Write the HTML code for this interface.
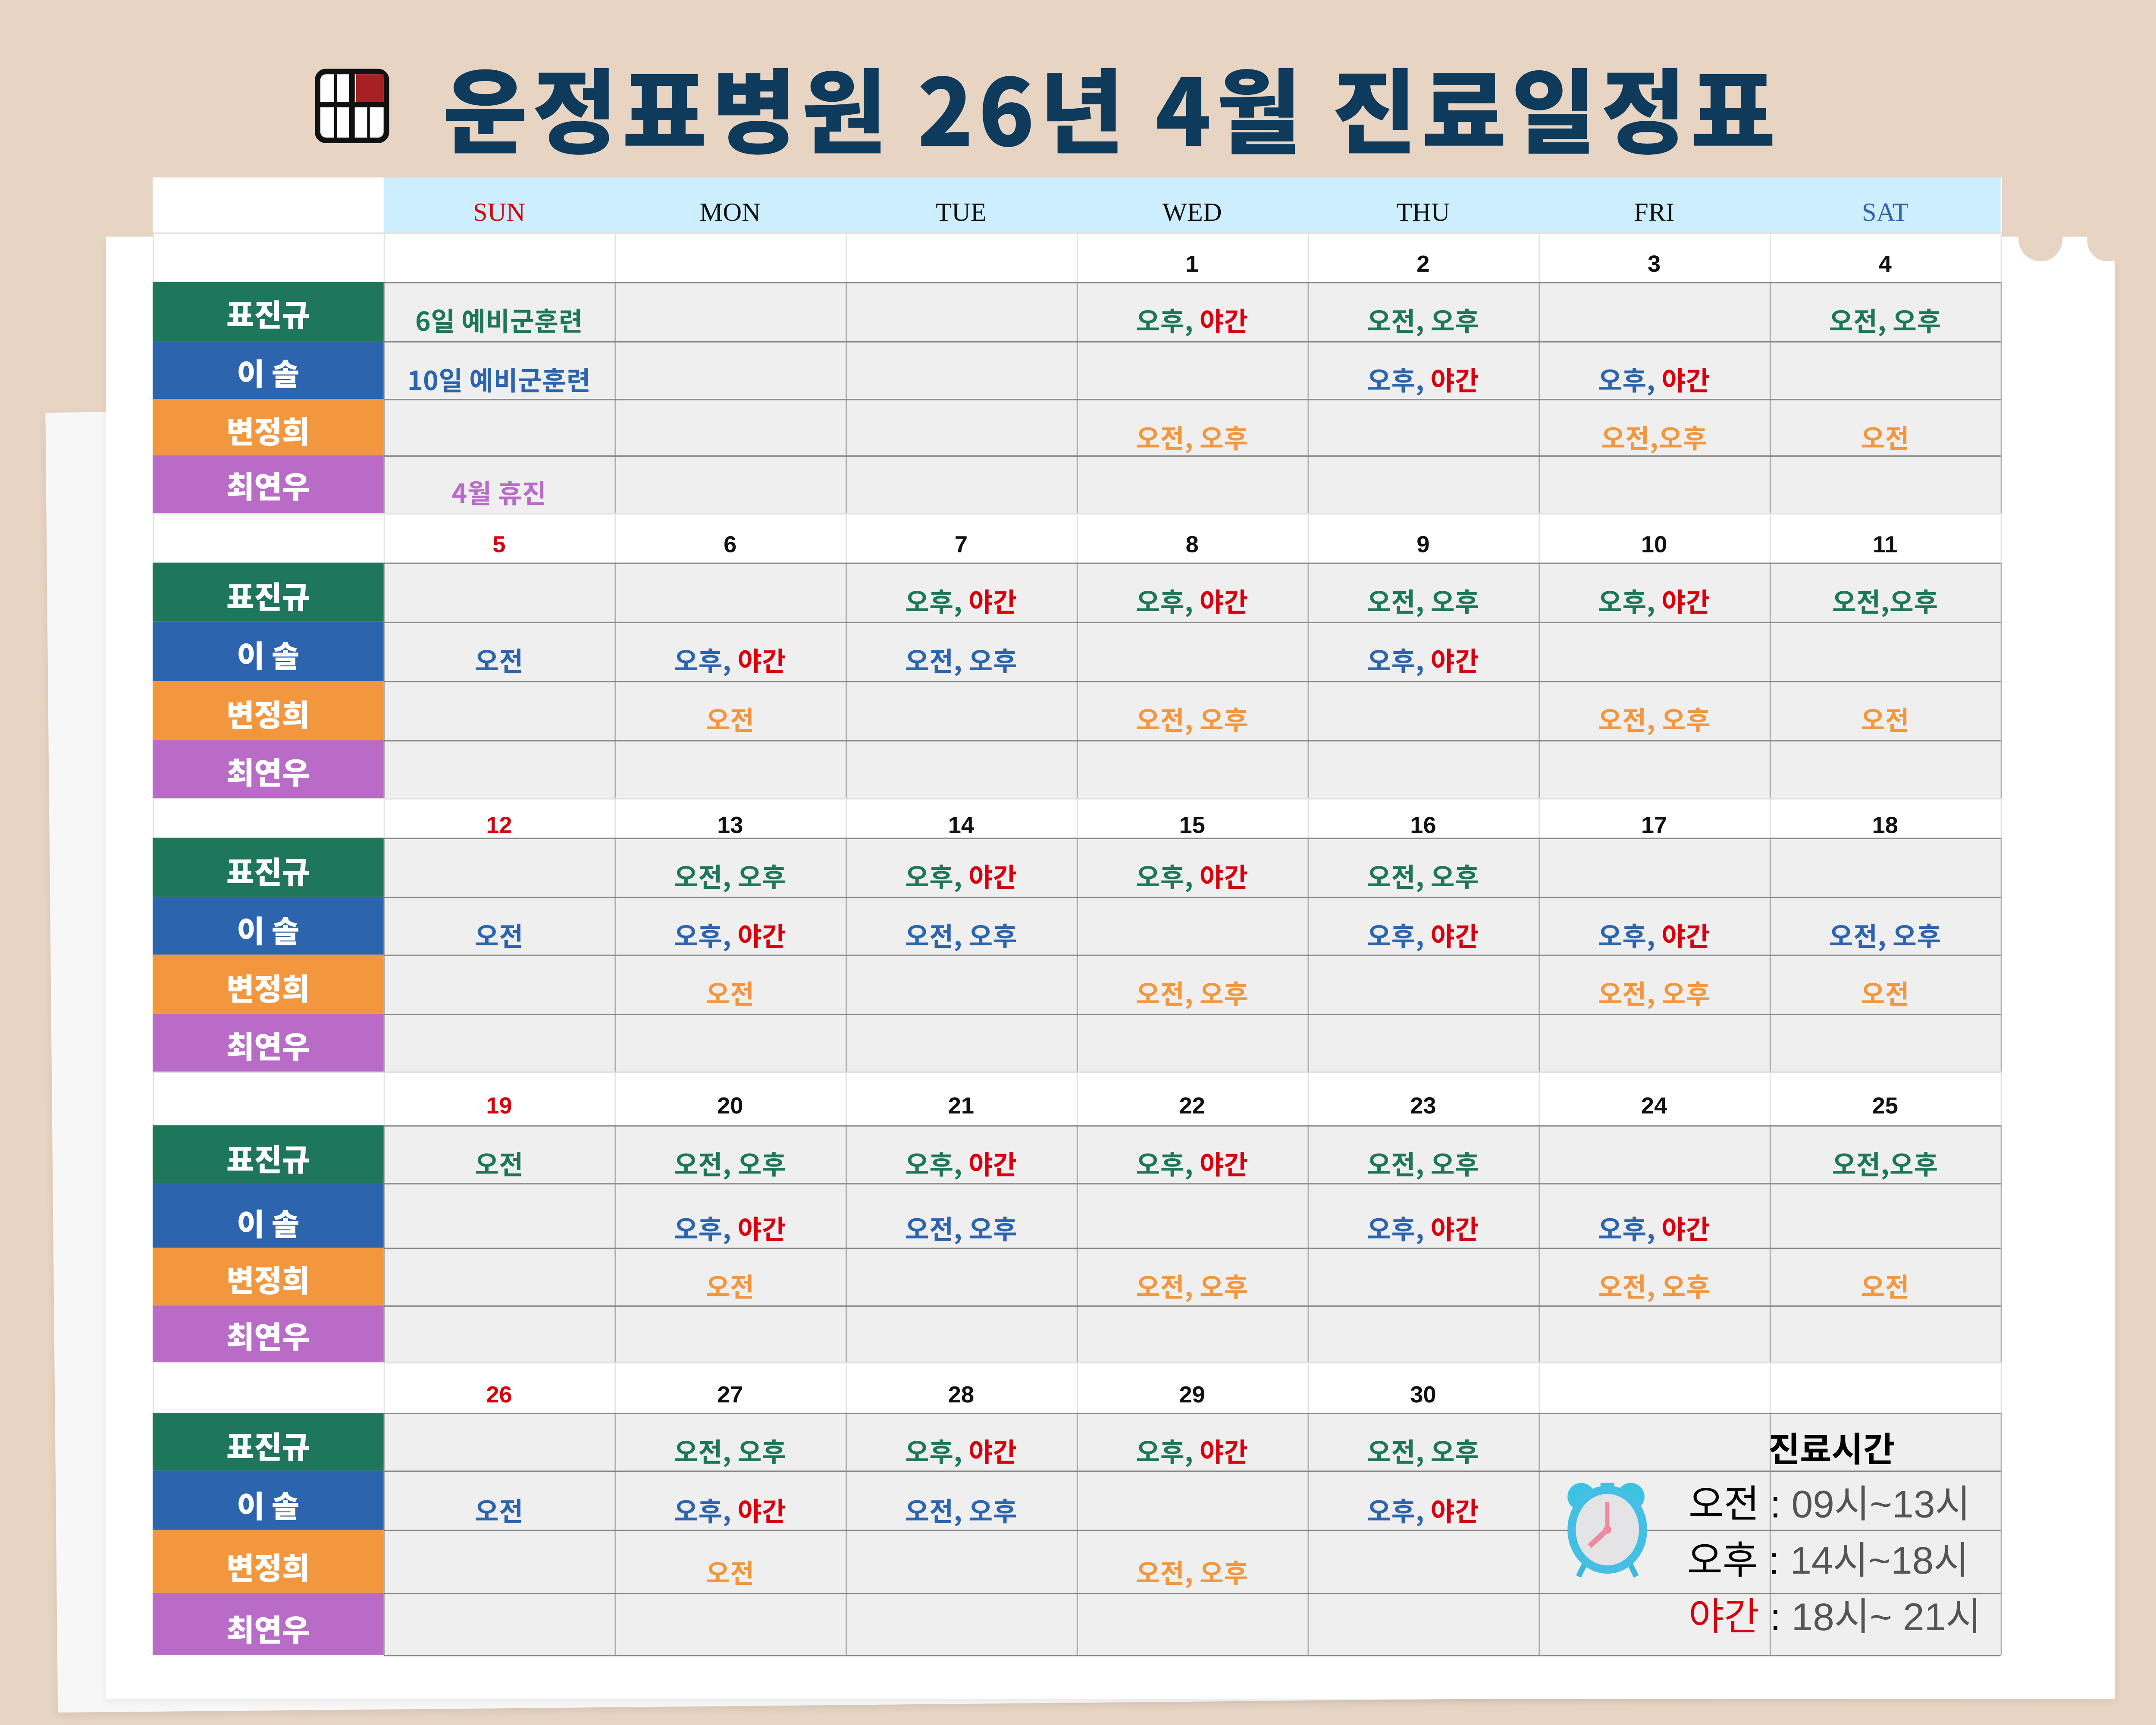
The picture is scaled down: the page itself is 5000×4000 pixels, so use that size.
<!DOCTYPE html>
<html><head><meta charset="utf-8">
<style>
html,body{margin:0;padding:0;width:5000px;height:4000px;overflow:hidden;background:#e7d4c3;}
#w{position:absolute;left:0;top:0;width:1568px;height:1254px;transform-origin:0 0;transform:scale(3.18878,3.18979);font-family:"Liberation Sans","Noto Sans CJK KR",sans-serif;}
.a{position:absolute;}
.t{position:absolute;white-space:nowrap;transform:translate(-50%,-50%);font-weight:700;line-height:1;}
.c{font-size:19px;font-family:"Noto Sans CJK KR",sans-serif;font-weight:700;letter-spacing:0.2px;}
.nm{font-size:22px;color:#fff;font-family:"Noto Sans CJK KR",sans-serif;font-weight:900;}
.dt{font-size:17px;color:#111;}
.dh{font-size:19px;font-family:"Liberation Serif",serif;font-weight:400;}
.r{color:#d6000f;}
</style></head><body>
<div id="w">
<div class="a" style="left:33px;top:300px;width:1480px;height:945px;background:#f7f7f7;transform:rotate(-0.55deg);transform-origin:0 0;box-shadow:0 2px 6px rgba(0,0,0,.08)"></div>
<div class="a" style="left:77px;top:172px;width:1461px;height:1063px;background:#fff;box-shadow:0 2px 5px rgba(0,0,0,.06)"></div>
<div class="a" style="left:1468px;top:165px;width:32px;height:25px;background:#e7d4c3;border-radius:0 0 16px 16px"></div>
<div class="a" style="left:1518px;top:165px;width:30px;height:25px;background:#e7d4c3;border-radius:0 0 16px 16px"></div>
<svg class="a" style="left:228px;top:49px" width="56" height="56" viewBox="0 0 56 56">
<rect x="3" y="3" width="50" height="50" rx="6" fill="#fff" stroke="#111" stroke-width="4"/>
<rect x="31" y="5" width="20" height="20" fill="#a81f24"/>
<line x1="3" y1="27" x2="53" y2="27" stroke="#111" stroke-width="4"/>
<line x1="28" y1="3" x2="28" y2="53" stroke="#111" stroke-width="4"/>
<line x1="16" y1="5" x2="16" y2="51" stroke="#111" stroke-width="2"/>
<line x1="40" y1="29" x2="40" y2="51" stroke="#111" stroke-width="2"/>
</svg>
<div class="a" style="left:322px;top:38px;font-size:67px;font-weight:900;color:#0e3a5b;font-family:'Noto Sans CJK KR',sans-serif;white-space:nowrap;line-height:80px;letter-spacing:3.6px">운정표병원 26년 4월 진료일정표</div>
<div id="tb"></div>
</div>
<script>
var W=document.getElementById('tb');var h='';
function box(x,y,w,hh,bg,ex){h+='<div class="a" style="left:'+x+'px;top:'+y+'px;width:'+w+'px;height:'+hh+'px;background:'+bg+';'+(ex||'')+'"></div>';}
function txt(x,y,s,cls,col){h+='<div class="t '+cls+'" style="left:'+x+'px;top:'+y+'px;'+(col?'color:'+col:'')+'">'+s+'</div>';}
var cols=[279,447,615,783,951,1119,1287,1455];
box(111,129,1345,1075,'#fff');
box(279,129,1176,40,'#cdeefc');
var days=['SUN','MON','TUE','WED','THU','FRI','SAT'],dc=['#d6000f','#111','#111','#111','#111','#111','#2b64b0'];
for(var i=0;i<7;i++)txt(cols[i]+84,155,days[i],'dh',dc[i]);
var names=['표진규','이 솔','변정희','최연우'],nc=['#1e775a','#2c64ae','#f3973f','#b96cc7'],tc=['#1e775a','#2c64ae','#f3973f','#b96cc7'];
var R='<span class="r">야간</span>';
var blocks=[
{d:169,rows:[205,248,290,331,373],ty:[233,276,318,358],ny:[228,271,313,353],dates:['','','','1','2','3','4'],
 data:[['6일 예비군훈련','','','오후, '+R,'오전, 오후','','오전, 오후'],['10일 예비군훈련','','','','오후, '+R,'오후, '+R,''],['','','','오전, 오후','','오전,오후','오전'],['4월 휴진','','','','','','']]},
{d:373,rows:[409,452,495,538,580],ty:[437,480,523,565],ny:[433,476,519,561],dates:['5','6','7','8','9','10','11'],
 data:[['','','오후, '+R,'오후, '+R,'오전, 오후','오후, '+R,'오전,오후'],['오전','오후, '+R,'오전, 오후','','오후, '+R,'',''],['','오전','','오전, 오후','','오전, 오후','오전'],['','','','','','','']]},
{d:580,rows:[609,652,694,737,779],ty:[637,680,722,764],ny:[633,676,718,760],dates:['12','13','14','15','16','17','18'],
 data:[['','오전, 오후','오후, '+R,'오후, '+R,'오전, 오후','',''],['오전','오후, '+R,'오전, 오후','','오후, '+R,'오후, '+R,'오전, 오후'],['','오전','','오전, 오후','','오전, 오후','오전'],['','','','','','','']]},
{d:779,rows:[818,860,907,949,990],ty:[846,893,935,975],ny:[842,889,930,971],dates:['19','20','21','22','23','24','25'],
 data:[['오전','오전, 오후','오후, '+R,'오후, '+R,'오전, 오후','','오전,오후'],['','오후, '+R,'오전, 오후','','오후, '+R,'오후, '+R,''],['','오전','','오전, 오후','','오전, 오후','오전'],['','','','','','','']]},
{d:990,rows:[1027,1069,1112,1158,1203],ty:[1055,1098,1143,1188],ny:[1051,1094,1139,1184],dates:['26','27','28','29','30','',''],
 data:[['','오전, 오후','오후, '+R,'오후, '+R,'오전, 오후','',''],['오전','오후, '+R,'오전, 오후','','오후, '+R,'',''],['','오전','','오전, 오후','','',''],['','','','','','','']]}
];
blocks.forEach(function(b){
 var y0=b.rows[0],y1=b.rows[4];
 box(279,y0,1176,y1-y0,'#efefef');
 for(var i=0;i<8;i++){box(cols[i],b.d,1,y0-b.d,'#e4e4e4');box(cols[i],y0,1,y1-y0,'#b0b0b0');}
 box(111,b.d,1,y0-b.d,'#e4e4e4');
 for(var r=0;r<4;r++){
  box(111,b.rows[r],168,b.rows[r+1]-b.rows[r],nc[r]);
  txt(195,b.ny[r],names[r],'nm');
 }
 for(var r=0;r<5;r++)box(279,b.rows[r],1176,1,'#8a8a8a');
 box(111,b.d,1345,1,'#e2e2e2');
 var dy=(b.d+y0)/2+5;
 for(var i=0;i<7;i++){ if(b.dates[i])txt(cols[i]+84,dy,b.dates[i],'dt',i==0?'#d6000f':'#111');
  for(var r=0;r<4;r++){var s=b.data[r][i];if(s)txt(cols[i]+84,b.ty[r],s,'c',tc[r]);}}
});
h+='<div class="t" style="left:1332px;top:1053px;font-size:25px;font-weight:700;font-family:\'Noto Sans CJK KR\',sans-serif;color:#000">진료시간</div>';
h+='<style>.lg{position:absolute;white-space:nowrap;font-size:28px;line-height:1;font-family:"Liberation Sans","Noto Sans CJK KR",sans-serif;color:#555;transform:translateY(-50%)}.lg b{font-weight:400;color:#000}</style>';
h+='<div class="lg" style="left:1228px;top:1094px"><b>오전</b> <b>:</b> 09시~13시</div>';
h+='<div class="lg" style="left:1227px;top:1135px"><b>오후</b> <b>:</b> 14시~18시</div>';
h+='<div class="lg" style="left:1228px;top:1176px"><b style="color:#d6000f">야간</b> <b>:</b> 18시~ 21시</div>';
h+='<svg class="a" style="left:1136px;top:1074px" width="66" height="74" viewBox="0 0 66 74"><circle cx="14" cy="14" r="10" fill="#3cc3e3"/><circle cx="50" cy="14" r="10" fill="#3cc3e3"/><rect x="28" y="4" width="10" height="6" fill="#3cc3e3"/><line x1="18" y1="60" x2="12" y2="72" stroke="#3cb8dc" stroke-width="4"/><line x1="48" y1="60" x2="54" y2="72" stroke="#3cb8dc" stroke-width="4"/><ellipse cx="33" cy="38" rx="29" ry="32" fill="#45bfe3"/><ellipse cx="33" cy="38" rx="23" ry="26" fill="#e4e4e6"/><line x1="33" y1="38" x2="33" y2="18" stroke="#f08aa0" stroke-width="3"/><line x1="33" y1="38" x2="20" y2="50" stroke="#f08aa0" stroke-width="4"/><circle cx="33" cy="38" r="3" fill="#f08aa0"/></svg>';
W.innerHTML=h;
</script>
</body></html>
